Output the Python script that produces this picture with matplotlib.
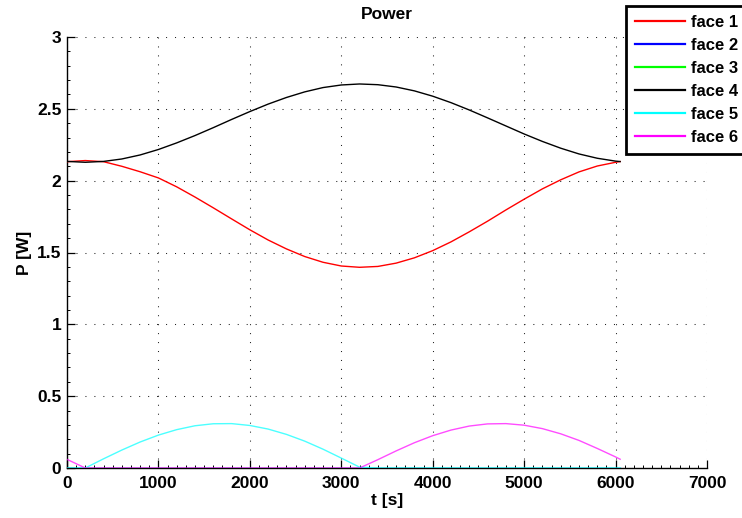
import matplotlib
matplotlib.use("Agg")
import matplotlib.pyplot as plt
from matplotlib.ticker import MultipleLocator

plt.rcParams["font.family"] = ["Liberation Sans", "DejaVu Sans"]
plt.rcParams["font.weight"] = "bold"

# time samples [s]
t = [0, 200, 400, 600, 800, 1000, 1200, 1400, 1600, 1800, 2000, 2200, 2400,
     2600, 2800, 3000, 3200, 3400, 3600, 3800, 4000, 4200, 4400, 4600, 4800,
     5000, 5200, 5400, 5600, 5800, 6000, 6050]

# power per face [W]
face1 = [2.132, 2.140, 2.132, 2.100, 2.062, 2.019, 1.957, 1.886, 1.811, 1.734,
         1.658, 1.587, 1.525, 1.472, 1.432, 1.406, 1.397, 1.403, 1.426, 1.463,
         1.513, 1.574, 1.644, 1.718, 1.796, 1.871, 1.943, 2.006, 2.061, 2.102,
         2.128, 2.133]
face2 = [0.0] * len(t)
face3 = [0.0] * len(t)
face4 = [2.134, 2.128, 2.134, 2.151, 2.179, 2.217, 2.263, 2.314, 2.369, 2.426,
         2.481, 2.533, 2.579, 2.618, 2.648, 2.666, 2.673, 2.668, 2.652, 2.625,
         2.588, 2.543, 2.492, 2.437, 2.381, 2.325, 2.273, 2.226, 2.186, 2.156,
         2.136, 2.133]
face5 = [0.0, 0.0, 0.064, 0.125, 0.181, 0.229, 0.267, 0.294, 0.308, 0.309,
         0.296, 0.271, 0.234, 0.187, 0.131, 0.069, 0.006, 0.0, 0.0, 0.0,
         0.0, 0.0, 0.0, 0.0, 0.0, 0.0, 0.0, 0.0, 0.0, 0.0,
         0.0, 0.0]
face6 = [0.060, 0.0, 0.0, 0.0, 0.0, 0.0, 0.0, 0.0, 0.0, 0.0,
         0.0, 0.0, 0.0, 0.0, 0.0, 0.0, 0.0, 0.058, 0.119, 0.176,
         0.225, 0.264, 0.292, 0.307, 0.309, 0.298, 0.274, 0.238, 0.192, 0.136,
         0.077, 0.061]

series = [face1, face2, face3, face4, face5, face6]
labels = ["face 1", "face 2", "face 3", "face 4", "face 5", "face 6"]
colors = ["#ff0000", "#0000ff", "#00ff00", "#000000", "#00ffff", "#ff00ff"]
alphas = [1.0, 1.0, 0.65, 1.0, 0.7, 0.7]

fig = plt.figure(figsize=(7.42, 5.18), dpi=100)
ax = fig.add_axes([67 / 742, 50 / 518, 640 / 742, 431 / 518])

lines = []
for y, lab, c, a in zip(series, labels, colors, alphas):
    ln, = ax.plot(t, y, color=c, lw=1.0, alpha=a, label=lab, zorder=3)
    lines.append(ln)

ax.set_xlim(0, 7000)
ax.set_ylim(0, 3)
ax.xaxis.set_major_locator(MultipleLocator(1000))
ax.xaxis.set_minor_locator(MultipleLocator(100))
ax.yaxis.set_minor_locator(MultipleLocator(0.1))
ax.set_yticks([0, 0.5, 1, 1.5, 2, 2.5, 3])
ax.set_yticklabels(["0", "0.5", "1", "1.5", "2", "2.5", "3"])

ax.grid(True, which="major", color="#222222", lw=0.75,
        linestyle=(0, (1, 7.6)))
ax.set_axisbelow(True)

for side in ("top", "right"):
    ax.spines[side].set_visible(False)
for side in ("left", "bottom"):
    ax.spines[side].set_linewidth(1.0)

ax.tick_params(which="major", direction="in", length=5.5, width=0.9,
               labelsize=12.5, pad=4)
ax.tick_params(which="minor", direction="in", length=2.5, width=0.7)
ax.tick_params(axis="x", which="major", pad=6)
for lbl in ax.get_xticklabels() + ax.get_yticklabels():
    lbl.set_fontweight("bold")

ax.set_title("Power", fontsize=12.5, fontweight="bold", pad=13)
ax.set_xlabel("t [s]", fontsize=12.5, fontweight="bold", labelpad=1)
ax.set_ylabel("P [W]", fontsize=12.5, fontweight="bold", labelpad=4)

leg = fig.legend(handles=lines, labels=labels, loc="upper left",
                 bbox_to_anchor=(626 / 742, 1 - 6 / 518),
                 bbox_transform=fig.transFigure, borderaxespad=0,
                 prop={"size": 12, "weight": "bold"}, frameon=True,
                 framealpha=1.0, fancybox=False, handlelength=3.0,
                 handletextpad=0.35, borderpad=0.55, labelspacing=0.48)
leg.get_frame().set_edgecolor("black")
leg.get_frame().set_linewidth(2.0)
for h in leg.legend_handles:
    h.set_alpha(1.0)
    h.set_linewidth(1.6)

fig.savefig("out.png", dpi=100)
